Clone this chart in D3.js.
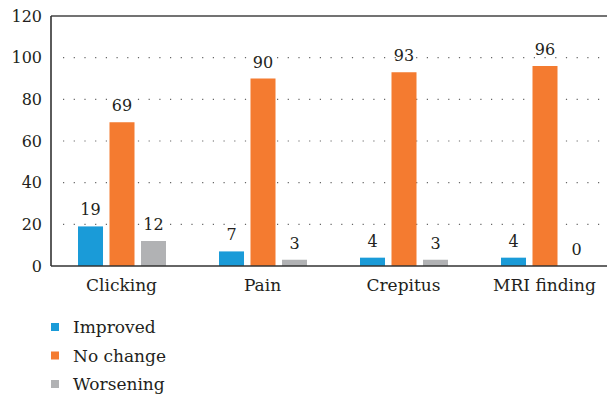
<!DOCTYPE html>
<html><head><meta charset="utf-8">
<script src="https://cdn.jsdelivr.net/npm/d3@7"></script>
<style>body{margin:0;background:#fff}svg{display:block}</style>
</head><body><svg id="c" width="607" height="400" font-family="'DejaVu Serif', 'Liberation Serif', serif"></svg>
<script>
const categories = ["Clicking", "Pain", "Crepitus", "MRI finding"];
const series = ["Improved", "No change", "Worsening"];
const improved = [19, 7, 4, 4];
const noChange = [69, 90, 93, 96];
const worsening = [12, 3, 3, 0];
const yTicks = [0, 20, 40, 60, 80, 100, 120];
const colors = ["#1a9bd8", "#f47b30", "#b1b2b4"];

(function () {
const values = [improved, noChange, worsening];
const svg = d3.select("#c");
const left = 51, right = 615, plotTop = 16, bottom = 266;
const txt = "#231f20";
const x = d3.scaleBand().domain(categories).range([left, right]);
const xs = d3.scaleBand().domain(series).range([-43.5, 44.5]).paddingInner(0.206).paddingOuter(0);
const y = d3.scaleLinear().domain([0, 120]).range([bottom, plotTop]);

svg.append("g").selectAll("line").data(yTicks.filter(d => d > 0 && d < 120)).join("line")
  .attr("x1", left + 12).attr("x2", 607).attr("y1", d => y(d)).attr("y2", d => y(d))
  .attr("stroke", "#666").attr("stroke-width", 1.2).attr("stroke-dasharray", "1.2,9.5");

const g = svg.append("g");
series.forEach((s, si) => {
  g.selectAll(".b" + si).data(categories).join("rect").attr("class", "b" + si)
    .attr("x", c => x(c) + x.bandwidth() / 2 + xs(s))
    .attr("width", xs.bandwidth())
    .attr("y", (c, i) => y(values[si][i]))
    .attr("height", (c, i) => bottom - y(values[si][i]))
    .attr("fill", colors[si]);
  g.selectAll(".l" + si).data(categories).join("text").attr("class", "l" + si)
    .attr("x", c => x(c) + x.bandwidth() / 2 + xs(s) + xs.bandwidth() / 2)
    .attr("y", (c, i) => y(values[si][i]) - 11)
    .attr("text-anchor", "middle").attr("font-size", 16).attr("fill", txt)
    .text((c, i) => values[si][i]);
});

svg.append("line").attr("x1", left).attr("x2", 607).attr("y1", plotTop).attr("y2", plotTop).attr("stroke", "#444").attr("stroke-width", 1.3);
svg.append("line").attr("x1", left).attr("x2", 607).attr("y1", bottom).attr("y2", bottom).attr("stroke", "#333").attr("stroke-width", 1.6);
svg.append("line").attr("x1", left).attr("x2", left).attr("y1", plotTop).attr("y2", bottom).attr("stroke", "#333").attr("stroke-width", 1.6);

svg.append("g").selectAll("text").data(yTicks).join("text")
  .attr("x", 42).attr("y", d => y(d) + 5.5).attr("text-anchor", "end").attr("font-size", 16).attr("fill", txt)
  .text(d => d);

svg.append("g").selectAll("text").data(categories).join("text")
  .attr("x", c => x(c) + x.bandwidth() / 2).attr("y", 291).attr("text-anchor", "middle").attr("font-size", 17).attr("fill", txt)
  .text(c => c);

const lg = svg.append("g");
series.forEach((s, i) => {
  const cy = 327 + i * 28.5;
  lg.append("rect").attr("x", 51).attr("y", cy - 4).attr("width", 8).attr("height", 8).attr("fill", colors[i]);
  lg.append("text").attr("x", 73).attr("y", cy + 6).attr("font-size", 17).attr("fill", txt).text(s);
});
})();
</script></body></html>
